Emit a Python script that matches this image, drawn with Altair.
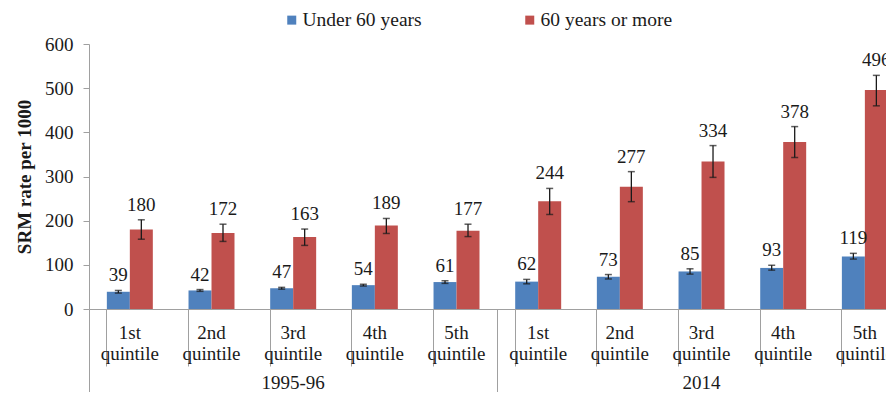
import altair as alt
import pandas as pd

periods = ["1995-96", "2014"]
quintiles = ["1st", "2nd", "3rd", "4th", "5th"]
series = ["Under 60 years", "60 years or more"]
colors = ["#4F81BD", "#C0504D"]

under60 = [39, 42, 47, 54, 61, 62, 73, 85, 93, 119]
under60_lo = [36, 40, 45, 52, 58, 57, 68, 79, 88, 113]
under60_hi = [42, 44, 49, 56, 64, 67, 78, 91, 99, 126]
over60 = [180, 172, 163, 189, 177, 244, 277, 334, 378, 496]
over60_lo = [158, 153, 144, 171, 164, 214, 243, 298, 343, 460]
over60_hi = [202, 192, 181, 205, 192, 273, 311, 370, 413, 529]

FONT = "Liberation Serif"
GRAY = "#a0a0a0"
TXT = "#1a1a1a"

groups = [f"{p}|{q}" for p in periods for q in quintiles]
rows = []
for i, g in enumerate(groups):
    rows.append({"grp": g, "series": series[0], "value": under60[i],
                 "lo": under60_lo[i], "hi": under60_hi[i]})
    rows.append({"grp": g, "series": series[1], "value": over60[i],
                 "lo": over60_lo[i], "hi": over60_hi[i]})
df = pd.DataFrame(rows)

FULL = 816.7

x_enc = alt.X(
    "grp:N",
    sort=groups,
    scale=alt.Scale(domain=groups, range=[0, FULL], paddingInner=0.437, paddingOuter=0.2185),
    axis=alt.Axis(
        title=None,
        orient="bottom",
        domainColor=GRAY,
        tickColor=GRAY,
        tickSize=57,
        bandPosition=0,
        labelExpr="[split(datum.value, '|')[1], 'quintile']",
        labelFont=FONT,
        labelFontSize=19,
        labelColor=TXT,
        labelLineHeight=21,
        labelPadding=-43,
        labelAngle=0,
        labelAlign="center",
        labelOverlap=False,
        labelBound=False,
        labelFlush=False,
    ),
)
xo_enc = alt.XOffset("series:N", sort=series, scale=alt.Scale(domain=series, paddingInner=0, paddingOuter=0))
y_scale = alt.Scale(domain=[0, 600], nice=False)

base = alt.Chart(df)

bars = base.mark_bar().encode(
    x=x_enc,
    xOffset=xo_enc,
    y=alt.Y(
        "value:Q",
        scale=y_scale,
        axis=alt.Axis(
            title="SRM rate per 1000",
            values=[0, 100, 200, 300, 400, 500, 600],
            grid=False,
            domainColor=GRAY,
            tickColor=GRAY,
            tickSize=6,
            labelPadding=10,
            labelFont=FONT,
            labelFontSize=19,
            labelColor=TXT,
            titleFont=FONT,
            titleFontSize=19,
            titleFontWeight="bold",
            titleColor=TXT,
            titlePadding=10,
        ),
    ),
    color=alt.Color(
        "series:N",
        sort=series,
        scale=alt.Scale(domain=series, range=colors),
        legend=alt.Legend(
            title=None,
            orient="none",
            legendX=193,
            legendY=-34,
            direction="horizontal",
            symbolType="square",
            symbolSize=81,
            symbolStrokeWidth=0,
            labelFont=FONT,
            labelFontSize=19.5,
            labelColor=TXT,
            labelOffset=1,
            columnPadding=98,
            padding=0,
        ),
    ),
)

rules = base.mark_rule(color=TXT, strokeWidth=1.3).encode(
    x=alt.X("grp:N", sort=groups), xOffset=alt.XOffset("series:N", sort=series),
    y=alt.Y("lo:Q", scale=y_scale), y2="hi:Q",
)
cap_hi = base.mark_tick(color=TXT, size=7, thickness=1.5).encode(
    x=alt.X("grp:N", sort=groups), xOffset=alt.XOffset("series:N", sort=series),
    y=alt.Y("hi:Q", scale=y_scale),
)
cap_lo = base.mark_tick(color=TXT, size=7, thickness=1.5).encode(
    x=alt.X("grp:N", sort=groups), xOffset=alt.XOffset("series:N", sort=series),
    y=alt.Y("lo:Q", scale=y_scale),
)
labels = base.mark_text(font=FONT, fontSize=19, color=TXT, baseline="bottom", dy=-5).encode(
    x=alt.X("grp:N", sort=groups), xOffset=alt.XOffset("series:N", sort=series),
    y=alt.Y("hi:Q", scale=y_scale),
    text="value:Q",
)

inner = alt.layer(bars, rules, cap_hi, cap_lo, labels)

pdf = pd.DataFrame({"period": periods})
period_layer = alt.Chart(pdf).mark_tick(opacity=0).encode(
    x=alt.X(
        "period:N",
        sort=periods,
        scale=alt.Scale(domain=periods, range=[0, FULL], paddingInner=0, paddingOuter=0),
        axis=alt.Axis(
            title=None,
            orient="bottom",
            domain=False,
            tickColor=GRAY,
            tickSize=92,
            bandPosition=0,
            labelFont=FONT,
            labelFontSize=19,
            labelColor=TXT,
            labelPadding=-28,
            labelAngle=0,
            labelBound=False,
            labelFlush=False,
        ),
    ),
    y=alt.value(0),
)

chart = (
    alt.layer(inner, period_layer)
    .resolve_scale(x="independent")
    .properties(
        width=797,
        height=265,
        padding={"left": 81, "top": 36, "right": 0, "bottom": 83},
        autosize="none",
    )
    .configure_view(stroke=None)
)

chart.save("out.html", embed_options={"renderer": "svg", "actions": False})
